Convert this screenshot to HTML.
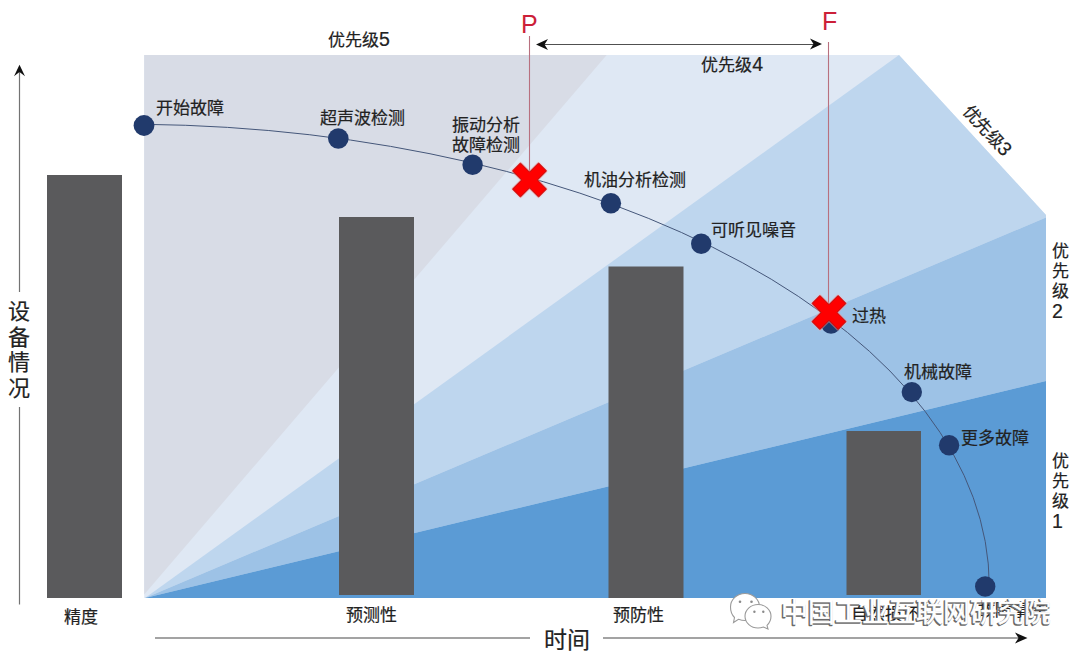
<!DOCTYPE html>
<html lang="zh-CN">
<head>
<meta charset="utf-8">
<style>
html,body{margin:0;padding:0;background:#fff;}
body{width:1080px;height:660px;overflow:hidden;font-family:"Liberation Sans",sans-serif;}
svg{display:block;}
text{font-family:"Liberation Sans",sans-serif;fill:#222;stroke:#222;stroke-width:0.2;}
.lb{font-size:17px;}
</style>
</head>
<body>
<svg width="1080" height="660" viewBox="0 0 1080 660">
<!-- background fan -->
<polygon points="144.2,598 144.2,55 899,55 1046,215 1046,598" fill="#dfe8f4"/>
<polygon points="144.2,594.5 144.2,55 606.7,55" fill="#d8dce6"/>
<polygon points="145,598 899,55 1046,215 1046,217.5" fill="#bed6ee"/>
<polygon points="145,598 1046,217.5 1046,381" fill="#9dc2e6"/>
<polygon points="145,598 1046,381 1046,598" fill="#5b9bd5"/>

<!-- bars -->
<rect x="47" y="175" width="75" height="423" fill="#5a5a5c"/>
<rect x="339" y="217" width="75" height="378" fill="#5a5a5c"/>
<rect x="608.5" y="266.5" width="75" height="331.5" fill="#5a5a5c"/>
<rect x="846.5" y="431" width="74.5" height="164" fill="#5a5a5c"/>

<!-- vertical axis -->
<line x1="19.5" y1="70" x2="19.5" y2="292" stroke="#737373" stroke-width="1.2"/>
<line x1="19.5" y1="407" x2="19.5" y2="604.5" stroke="#737373" stroke-width="1.2"/>
<path d="M19.5,64.8 L25,76.3 L19.5,72 L14,76.3 Z" fill="#111"/>
<text x="18.5" y="319" font-size="22" text-anchor="middle">设</text>
<text x="18.5" y="344.5" font-size="22" text-anchor="middle">备</text>
<text x="18.5" y="370" font-size="22" text-anchor="middle">情</text>
<text x="18.5" y="395.5" font-size="22" text-anchor="middle">况</text>

<!-- horizontal axis -->
<line x1="155" y1="638" x2="530" y2="638" stroke="#858585" stroke-width="1.5"/>
<line x1="603" y1="638" x2="1022" y2="638" stroke="#858585" stroke-width="1.5"/>
<path d="M1027.5,638 L1015,632.5 L1018.5,638 L1015,643.5 Z" fill="#111"/>
<text x="543.5" y="647.5" font-size="23">时间</text>

<!-- bar labels -->
<text class="lb" x="64" y="623">精度</text>
<text class="lb" x="346" y="621">预测性</text>
<text class="lb" x="613" y="621">预防性</text>
<text class="lb" x="851" y="620">自然损坏</text>
<text class="lb" x="978" y="616">故障事件</text>

<!-- P / F -->
<line x1="529.5" y1="36" x2="529.5" y2="181" stroke="#b8707f" stroke-width="1.1"/>
<line x1="828.5" y1="42" x2="828.5" y2="312" stroke="#b8707f" stroke-width="1.1"/>
<text x="521" y="33" font-size="25" style="fill:#cc2038;stroke:none">P</text>
<text x="822" y="30.3" font-size="25" style="fill:#cc2038;stroke:none">F</text>
<line x1="540" y1="44.5" x2="818" y2="44.5" stroke="#505050" stroke-width="1.2"/>
<path d="M536,44.5 L548,39 L544.5,44.5 L548,50 Z" fill="#111"/>
<path d="M822,44 L810,38.5 L813.5,44 L810,49.5 Z" fill="#111"/>

<!-- priority labels -->
<text class="lb" x="328" y="46">优先级<tspan font-size="19.5">5</tspan></text>
<text class="lb" x="701.2" y="71">优先级<tspan font-size="19.5">4</tspan></text>
<text class="lb" transform="translate(987,130.5) rotate(47.8)" x="-31" y="6">优先级<tspan font-size="19.5">3</tspan></text>
<text class="lb" x="1060.5" y="257" text-anchor="middle">优</text>
<text class="lb" x="1060.5" y="277" text-anchor="middle">先</text>
<text class="lb" x="1060.5" y="297" text-anchor="middle">级</text>
<text x="1052" y="317.5" font-size="19.5">2</text>
<text class="lb" x="1060.5" y="467" text-anchor="middle">优</text>
<text class="lb" x="1060.5" y="487" text-anchor="middle">先</text>
<text class="lb" x="1060.5" y="507" text-anchor="middle">级</text>
<text x="1052" y="527.5" font-size="19.5">1</text>

<!-- curve -->
<path d="M144,124.3 A862.8,462.1 0 0 1 989.3,586.3" fill="none" stroke="#45577a" stroke-width="1"/>

<!-- points -->
<g fill="#213a6c">
<circle cx="144" cy="125.5" r="10.4"/>
<circle cx="338.3" cy="138.5" r="10.3"/>
<circle cx="472.6" cy="164.7" r="10.2"/>
<circle cx="610.9" cy="203.3" r="10.2"/>
<circle cx="701.2" cy="243.8" r="10.2"/>
<circle cx="831" cy="323.5" r="10.2"/>
<circle cx="911.8" cy="392.1" r="10.2"/>
<circle cx="949.1" cy="445.3" r="10.2"/>
<circle cx="985.2" cy="586.5" r="10.2"/>
</g>

<!-- point labels -->
<text class="lb" x="156" y="114">开始故障</text>
<text class="lb" x="320" y="124">超声波检测</text>
<text class="lb" x="452" y="131">振动分析</text>
<text class="lb" x="452" y="151.2">故障检测</text>
<text class="lb" x="583.5" y="186">机油分析检测</text>
<text class="lb" x="710.5" y="236">可听见噪音</text>
<text class="lb" x="851.5" y="322">过热</text>
<text class="lb" x="904" y="378">机械故障</text>
<text class="lb" x="960.5" y="444">更多故障</text>

<!-- X marks -->
<g fill="#ff0000" stroke="#ffb4b4" stroke-width="2.2" stroke-linejoin="round" opacity="0.6">
<path transform="translate(529.5,180) rotate(45)" d="M-18.4,-5.6 H-5.6 V-18.4 H5.6 V-5.6 H18.4 V5.6 H5.6 V18.4 H-5.6 V5.6 H-18.4 Z"/>
<path transform="translate(829,312.5) rotate(45)" d="M-18.4,-5.6 H-5.6 V-18.4 H5.6 V-5.6 H18.4 V5.6 H5.6 V18.4 H-5.6 V5.6 H-18.4 Z"/>
</g>
<g fill="#ff0000" stroke="#c00000" stroke-width="0.9" stroke-linejoin="round">
<path transform="translate(529.5,180) rotate(45)" d="M-18.4,-5.6 H-5.6 V-18.4 H5.6 V-5.6 H18.4 V5.6 H5.6 V18.4 H-5.6 V5.6 H-18.4 Z"/>
<path transform="translate(829,312.5) rotate(45)" d="M-18.4,-5.6 H-5.6 V-18.4 H5.6 V-5.6 H18.4 V5.6 H5.6 V18.4 H-5.6 V5.6 H-18.4 Z"/>
</g>

<!-- watermark -->
<g>
<g fill="#fff" stroke="#9a9a9a" stroke-width="1.1">
<path d="M745,593.5 C753,593.5 759.5,599.5 759.5,607 C759.5,614.5 753,620.5 745,620.5 C742.5,620.5 740.5,620 738.5,619.3 L733.5,622.5 L734.5,617.5 C732,615 730.5,611.3 730.5,607 C730.5,599.5 737,593.5 745,593.5 Z"/>
<path d="M758,604.5 C765,604.5 771,609.7 771,616.3 C771,620 769.5,623 767,625.3 L768,629 L763.5,627 C761.8,627.6 760,628 758,628 C751,628 745,622.8 745,616.3 C745,609.7 751,604.5 758,604.5 Z"/>
</g>
<g fill="#8a8a8a">
<circle cx="740" cy="601.7" r="1.3"/><circle cx="751.5" cy="601.7" r="1.3"/>
<circle cx="754.4" cy="611.7" r="1.2"/><circle cx="763.3" cy="611.7" r="1.2"/>
</g>
<text x="780" y="622.5" font-size="27" style="fill:#6a6a6a;stroke:#6a6a6a;stroke-width:1.6;stroke-linejoin:round">中国工业互联网研究院</text>
<text x="781" y="621.5" font-size="27" style="fill:#fff;stroke:#fff;stroke-width:0.5">中国工业互联网研究院</text>
</g>
</svg>
</body>
</html>
